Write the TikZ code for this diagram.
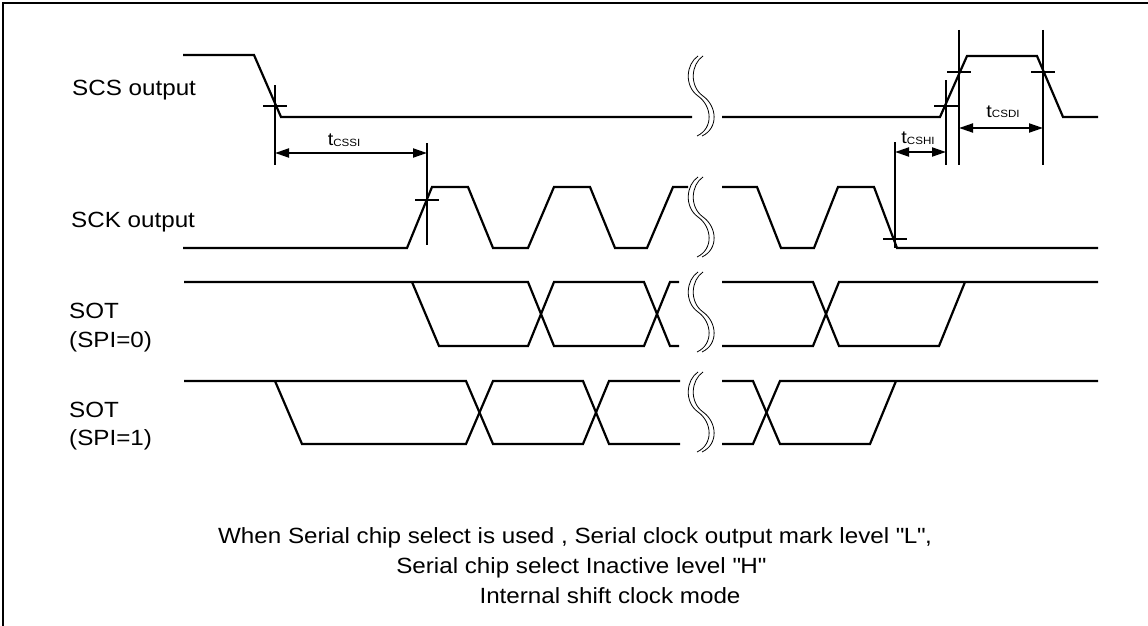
\documentclass[tikz,border=0pt]{standalone}
\usepackage{fontspec}
\setmainfont{Liberation Sans}[FakeStretch=1.1]
\usetikzlibrary{arrows.meta}
\newcommand{\tsig}[1]{{\fontsize{18}{18}\selectfont t}\raisebox{-1pt}{\fontsize{10.5}{10.5}\selectfont #1}}
\newcommand{\gapmark}[1]{%
  \foreach \d in {0,5}
    \draw[gapline] ({698+\d},#1) .. controls ({686+\d},{#1+8}) and ({684+\d},{#1+30}) .. ({698+\d},{#1+40})
      .. controls ({712+\d},{#1+50}) and ({714+\d},{#1+72}) .. ({697+\d},{#1+80});}

\begin{document}
\begin{tikzpicture}[x=1pt, y=-1pt]
  \tikzset{wave/.style={line width=2.2pt, line join=miter},
           gapline/.style={line width=0.8pt},
           marker/.style={line width=1.6pt},
           dimarrow/.style={line width=2pt, {Triangle[length=14pt,width=9pt]}-{Triangle[length=14pt,width=9pt]}},
           siglabel/.style={anchor=base west, inner sep=0pt, font=\fontsize{22}{26}\selectfont},
           notetext/.style={anchor=base, inner sep=0pt, font=\fontsize{22}{26}\selectfont},
           timelabel/.style={anchor=base, inner sep=0pt}}
  \useasboundingbox (0,0) rectangle (1148,626);
  \draw[line width=2pt] (3,630) -- (3,3) -- (1150,3);

  % signal names
  \node[siglabel] (scs) at (72,95) {SCS output};
  \node[siglabel] (sck) at (71,227) {SCK output};
  \node[siglabel] (sotA) at (69,318) {SOT};
  \node[siglabel] (spiA) at (69,347) {(SPI=0)};
  \node[siglabel] (sotB) at (69,417) {SOT};
  \node[siglabel] (spiB) at (69,445) {(SPI=1)};

  % SCS output
  \draw[wave] (183,55) -- (254,55) -- (281,117) -- (692,117);
  \draw[wave] (722,117) -- (940,117) -- (967,56) -- (1037,56) -- (1063,117) -- (1098,117);
  % SCK output
  \draw[wave] (183,248) -- (407,248) -- (432,187) -- (468,187) -- (493,248) -- (528,248) -- (554,187)
    -- (590,187) -- (615,248) -- (647,248) -- (673,187) -- (688,187);
  \draw[wave] (722,187) -- (757,187) -- (781,248) -- (814,248) -- (838,187) -- (874,187) -- (897,248) -- (1098,248);
  % SOT (SPI=0)
  \draw[wave] (184,282) -- (528,282) -- (554,346) -- (644,346) -- (670,282) -- (679,282);
  \draw[wave] (412,282) -- (439,346) -- (528,346) -- (554,282) -- (644,282) -- (670,346) -- (679,346);
  \draw[wave] (722,282) -- (813,282) -- (839,346) -- (939,346) -- (965,282);
  \draw[wave] (722,346) -- (813,346) -- (839,282) -- (1098,282);
  % SOT (SPI=1)
  \draw[wave] (184,381) -- (466,381) -- (493,444) -- (583,444) -- (609,381) -- (680,381);
  \draw[wave] (275,381) -- (302,444) -- (466,444) -- (493,381) -- (583,381) -- (609,444) -- (680,444);
  \draw[wave] (722,381) -- (753,381) -- (780,444) -- (870,444) -- (896,381);
  \draw[wave] (722,444) -- (753,444) -- (780,381) -- (1098,381);

  % breaks
  \gapmark{56}
  \gapmark{177}
  \gapmark{272}
  \gapmark{372}

  % reference lines and crossings
  \draw[marker] (275,85) -- (275,165);
  \draw[marker] (263,106) -- (287,106);
  \draw[marker] (427,143) -- (427,245);
  \draw[marker] (415,200) -- (439,200);
  \draw[marker] (895,142) -- (895,248);
  \draw[marker] (883,239) -- (907,239);
  \draw[marker] (946,80) -- (946,165);
  \draw[marker] (934,106) -- (958,106);
  \draw[marker] (959,30) -- (959,165);
  \draw[marker] (947,72) -- (971,72);
  \draw[marker] (1043,30) -- (1043,165);
  \draw[marker] (1031,72) -- (1055,72);

  % timings
  \coordinate (cssiL) at (275,153);
  \coordinate (cssiR) at (427,153);
  \coordinate (cshiL) at (895,152);
  \coordinate (cshiR) at (946,152);
  \coordinate (csdiL) at (959,128);
  \coordinate (csdiR) at (1043,128);
  \draw[dimarrow] (cssiL) -- (cssiR);
  \draw[dimarrow] (cshiL) -- (cshiR);
  \draw[dimarrow] (csdiL) -- (csdiR);
  \node[timelabel] (tcssi) at (344,145) {\tsig{CSSI}};
  \node[timelabel] (tcshi) at (918,143) {\tsig{CSHI}};
  \node[timelabel] (tcsdi) at (1003,117) {\tsig{CSDI}};

  % note
  \node[notetext] (noteA) at (575,543) {When Serial chip select is used , Serial clock output mark level \textquotedbl L\textquotedbl,};
  \node[notetext] (noteB) at (581,573) {Serial chip select Inactive level \textquotedbl H\textquotedbl};
  \node[notetext] (noteC) at (610,603) {Internal shift clock mode};
\end{tikzpicture}
\end{document}
